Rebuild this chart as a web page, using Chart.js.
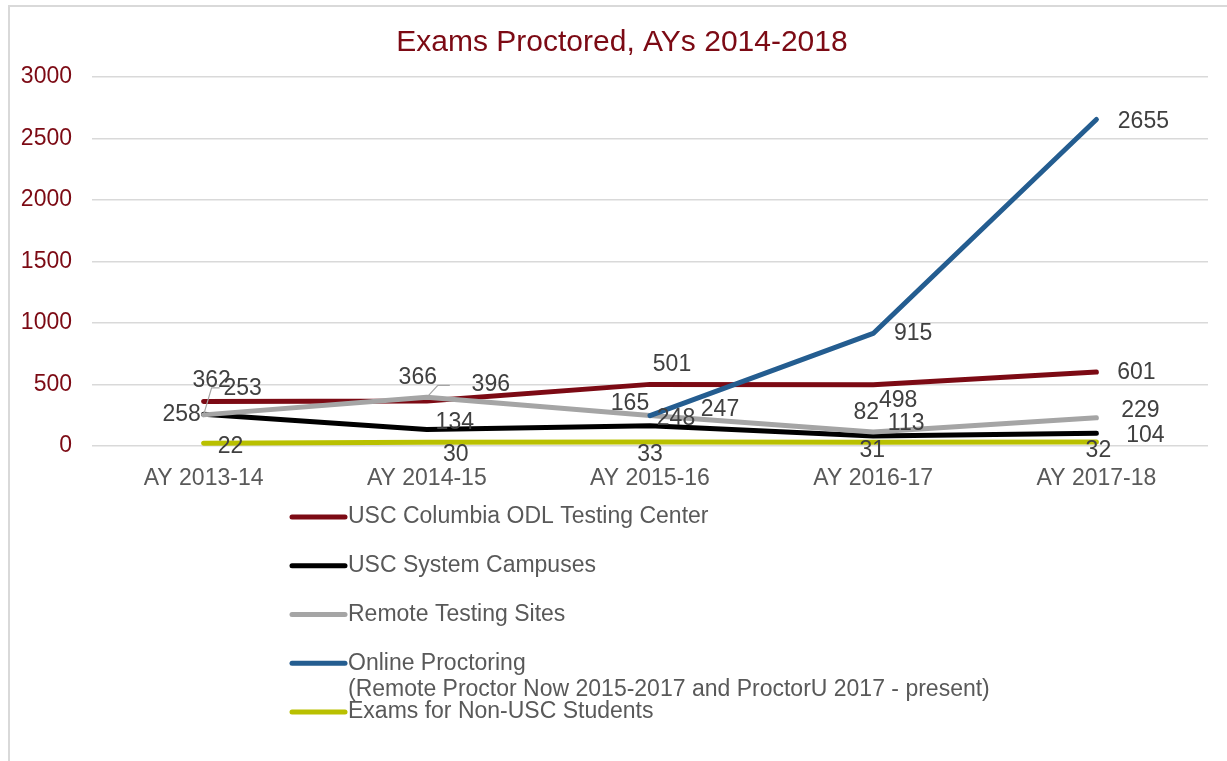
<!DOCTYPE html>
<html>
<head>
<meta charset="utf-8">
<title>Exams Proctored, AYs 2014-2018</title>
<script src="https://cdn.jsdelivr.net/npm/chart.js@4.4.1/dist/chart.umd.min.js"></script>
<style>
    html, body { margin: 0; padding: 0; background: #fff; overflow: hidden; }
    #wrap { position: relative; width: 1227px; height: 761px; }
    #frame { position: absolute; left: 8px; top: 5px; width: 1240px; height: 800px; border: 2px solid #d9d9d9; box-sizing: border-box; }
    #chart { position: absolute; left: 0; top: 0; }
</style>
</head>
<body>
<div id="wrap">
    <div id="frame"></div>
    <canvas id="chart" width="1227" height="761"></canvas>
</div>
<script>
// ========== Data ==========
const chartTitle = 'Exams Proctored, AYs 2014-2018';
const categories = ['AY 2013-14', 'AY 2014-15', 'AY 2015-16', 'AY 2016-17', 'AY 2017-18'];
const columbiaOdl = [362, 366, 501, 498, 601];
const systemCampuses = [258, 134, 165, 82, 104];
const remoteSites = [253, 396, 248, 113, 229];
const onlineProctoring = [null, null, 247, 915, 2655];
const nonUscStudents = [22, 30, 33, 31, 32];

const FONT = '"Liberation Sans", Arial, sans-serif';
const DARK_RED = '#7c0a14';

// label nudges (px from the point), like Excel's hand-placed labels
const series = [
    { label: ['USC Columbia ODL Testing Center'], data: columbiaOdl, color: DARK_RED,
      offsets: [[8, -21], [-9, -23], [22, -20], [25, 16], [40, 1]] },
    { label: ['USC System Campuses'], data: systemCampuses, color: '#000000',
      offsets: [[-22, 0], [28, -7], [-20, -22], [-7, -23], [49, 2]] },
    { label: ['Remote Testing Sites'], data: remoteSites, color: '#a5a5a5',
      offsets: [[39, -26], [64, -13], [26, 3], [33, -8], [44, -7]],
      leaders: [[[8, -27], [16, -27]], [[11, -12], [23, -12]], null, null, null] },
    { label: ['Online Proctoring', '(Remote Proctor Now 2015-2017 and ProctorU 2017 - present)'],
      data: onlineProctoring, color: '#245d90',
      offsets: [null, null, [70, -6], [40, 0], [47, 2]] },
    { label: ['Exams for Non-USC Students'], data: nonUscStudents, color: '#b9c000',
      offsets: [[27, 3], [29, 12], [0, 13], [-1, 8], [2, 9]] }
];

// ========== Plugins ==========
const pointLabels = {
    id: 'pointLabels',
    afterDatasetsDraw(chart) {
        const ctx = chart.ctx;
        ctx.save();
        ctx.font = '23px ' + FONT;
        ctx.fillStyle = '#404040';
        ctx.textAlign = 'center';
        ctx.textBaseline = 'middle';
        chart.data.datasets.forEach((ds, i) => {
            const meta = chart.getDatasetMeta(i);
            meta.data.forEach((pt, j) => {
                const v = ds.data[j];
                if (v == null) return;
                const [dx, dy] = ds.offsets[j];
                const lead = ds.leaders && ds.leaders[j];
                if (lead) {
                    ctx.strokeStyle = '#a5a5a5';
                    ctx.lineWidth = 1.2;
                    ctx.beginPath();
                    ctx.moveTo(pt.x, pt.y);
                    lead.forEach(([lx, ly]) => ctx.lineTo(pt.x + lx, pt.y + ly));
                    ctx.stroke();
                }
                ctx.fillText(String(v), pt.x + dx, pt.y + dy);
            });
        });
        ctx.restore();
    }
};

// title + stacked legend drawn by hand, Excel-style
const frameText = {
    id: 'frameText',
    afterDraw(chart) {
        const ctx = chart.ctx;
        ctx.save();
        ctx.font = '30px ' + FONT;
        ctx.fillStyle = DARK_RED;
        ctx.textAlign = 'center';
        ctx.textBaseline = 'middle';
        ctx.fillText(chartTitle, 622, 43);

        const x0 = 292, x1 = 345, textX = 348;
        let y = 517;
        ctx.font = '23px ' + FONT;
        ctx.fillStyle = '#595959';
        ctx.textAlign = 'left';
        chart.data.datasets.forEach(ds => {
            ctx.strokeStyle = ds.borderColor;
            ctx.lineWidth = 5;
            ctx.lineCap = 'round';
            ctx.beginPath();
            ctx.moveTo(x0, y);
            ctx.lineTo(x1, y);
            ctx.stroke();
            ds.label.forEach((line, k) => ctx.fillText(line, textX, y + k * 26));
            y += 48.75;
        });
        ctx.restore();
    }
};

// ========== Chart ==========
const ctx = document.getElementById('chart').getContext('2d');
new Chart(ctx, {
    type: 'line',
    data: {
        labels: categories,
        datasets: series.map((s, i) => ({
            label: s.label,
            data: s.data,
            borderColor: s.color,
            backgroundColor: s.color,
            borderWidth: 5,
            borderCapStyle: 'round',
            borderJoinStyle: 'round',
            pointRadius: 0,
            pointHoverRadius: 0,
            tension: 0,
            fill: false,
            spanGaps: false,
            order: series.length - 1 - i,
            offsets: s.offsets,
            leaders: s.leaders
        }))
    },
    options: {
        responsive: false,
        animation: false,
        devicePixelRatio: 1,
        layout: { padding: { left: 10, right: 19, top: 77, bottom: 275 } },
        plugins: {
            legend: { display: false },
            tooltip: { enabled: false },
            title: { display: false }
        },
        scales: {
            x: {
                offset: true,
                grid: { display: false },
                border: { display: false },
                ticks: { color: '#595959', font: { family: FONT, size: 23 }, padding: 11, maxRotation: 0 },
                afterFit: (scale) => { scale.height = 40; }
            },
            y: {
                min: 0,
                max: 3000,
                grid: { color: '#d9d9d9', lineWidth: 1.5, drawTicks: false },
                border: { display: false },
                ticks: {
                    stepSize: 500,
                    color: DARK_RED,
                    font: { family: FONT, size: 23 },
                    padding: 20,
                    callback: (v) => String(v)
                },
                afterFit: (scale) => { scale.width = 82; }
            }
        }
    },
    plugins: [pointLabels, frameText]
});
</script>
</body>
</html>
